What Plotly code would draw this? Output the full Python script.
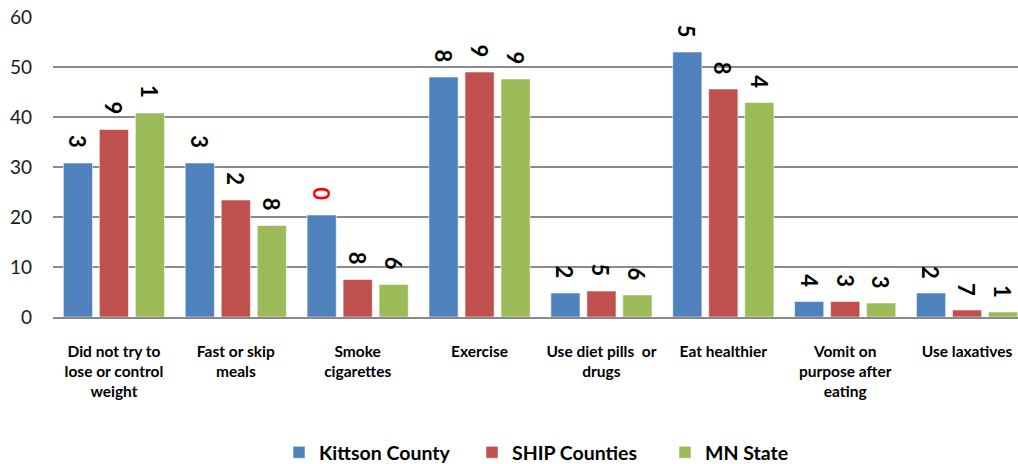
import plotly.graph_objects as go

categories = [
    "Did not try to<br>lose or control<br>weight",
    "Fast or skip<br>meals",
    "Smoke<br>cigarettes",
    "Exercise",
    "Use diet pills  or<br>drugs",
    "Eat healthier",
    "Vomit on<br>purpose after<br>eating",
    "Use laxatives",
]
series_names = ["Kittson County", "SHIP Counties", "MN State"]
kittson = [30.8, 30.8, 20.4, 48.0, 4.8, 53.0, 3.1, 4.8]
ship = [37.5, 23.4, 7.5, 49.0, 5.2, 45.6, 3.1, 1.4]
mn = [40.8, 18.3, 6.5, 47.6, 4.4, 42.9, 2.8, 1.0]
kittson_labels = ["3", "3", "0", "8", "2", "5", "4", "2"]
ship_labels = ["9", "2", "8", "9", "5", "8", "3", "7"]
mn_labels = ["1", "8", "6", "9", "6", "4", "3", "1"]
y_ticks = [0, 10, 20, 30, 40, 50, 60]

colors = ["#4F81BD", "#C0504D", "#9BBB59"]
all_values = [kittson, ship, mn]
all_labels = [kittson_labels, ship_labels, mn_labels]
label_colors = [["black"] * 8, ["black"] * 8, ["black"] * 8]
label_colors[0][2] = "#FF0000"

xs = list(range(len(categories)))
bargap = 0.114
slot = (1 - bargap) / 3

fig = go.Figure()
for name, vals, col in zip(series_names, all_values, colors):
    fig.add_trace(go.Bar(
        x=xs, y=vals, name=name,
        marker=dict(color=col, line=dict(color="rgba(255,255,255,0.55)", width=1)),
    ))

annotations = []
for k, (vals, labs, cols) in enumerate(zip(all_values, all_labels, label_colors)):
    for i, (v, t, c) in enumerate(zip(vals, labs, cols)):
        annotations.append(dict(
            x=i + (k - 1) * slot, y=v, xref="x", yref="y",
            text="<b>" + t + "</b>", showarrow=False, textangle=90,
            xanchor="center", yanchor="middle", yshift=21,
            font=dict(family="Lato, sans-serif", size=22, color=c),
        ))

fig.update_layout(
    width=1018, height=464,
    margin=dict(l=53, r=0, t=17, b=147, autoexpand=False),
    paper_bgcolor="white", plot_bgcolor="white",
    barmode="group", bargap=bargap, bargroupgap=0.19,
    annotations=annotations,
    xaxis=dict(
        range=[-0.5, 7.418], tickmode="array", tickvals=xs,
        ticktext=["<b>" + c.replace("<br>", "</b><br><b>") + "</b>" for c in categories],
        tickfont=dict(family="Lato, sans-serif", size=15.5, color="black"),
        showgrid=False, zeroline=False, showline=True, linecolor="#8a8a8a", linewidth=2,
        ticks="", ticklabelstandoff=19, automargin=False,
    ),
    yaxis=dict(
        range=[0, 60], tickmode="array", tickvals=y_ticks,
        tickfont=dict(family="Lato, sans-serif", size=19, color="#1a1a1a"),
        showgrid=True, gridcolor="#8a8a8a", gridwidth=2, zeroline=False,
        showline=False, ticks="", ticklabelstandoff=20, automargin=False,
    ),
    legend=dict(
        orientation="h", x=0.5342, xanchor="center", y=-0.452, yanchor="middle",
        font=dict(family="Lato, sans-serif", size=19.5, color="black", weight="bold"),
        itemwidth=30, bgcolor="rgba(0,0,0,0)",
        entrywidth=148, entrywidthmode="pixels",
    ),
)

fig.write_html(
    "out.html",
    config={"displayModeBar": False},
    post_script="document.body.style.margin='0';document.body.style.overflow='hidden';",
)
